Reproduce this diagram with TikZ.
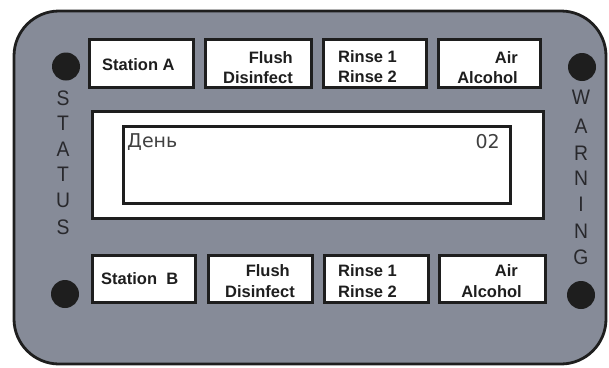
\documentclass[tikz,border=0pt]{standalone}
\usepackage{fontspec}
\setmainfont{Liberation Sans}
\newfontfamily\dispfont{DejaVu Sans}
\newfontfamily\sidefont[FakeStretch=0.92]{Liberation Sans}
\definecolor{panelgray}{RGB}{134,139,152}
\definecolor{inkdark}{RGB}{30,30,30}
\definecolor{lettergray}{RGB}{40,40,44}
\tikzset{
  panel/.style={draw=inkdark, line width=2.8pt, fill=panelgray, rounded corners=45pt},
  btn/.style={draw=inkdark, line width=3.2pt, fill=white, inner sep=0pt, outer sep=0pt},
  disp/.style={draw=inkdark, line width=2.8pt, fill=white, inner sep=0pt, outer sep=0pt},
  lamp/.style={circle, fill=inkdark, minimum size=28pt, inner sep=0pt},
  btxt/.style={font=\fontsize{16.5}{19}\selectfont\bfseries, text=inkdark, inner sep=0pt},
  side/.style={font=\sidefont\fontsize{21}{24}\selectfont, text=lettergray, inner sep=0pt},
  dtxt/.style={font=\dispfont\fontsize{19}{22}\selectfont, text=inkdark!85, inner sep=0pt}
}
\begin{document}
\begin{tikzpicture}[x=1pt, y=-1pt]
\useasboundingbox (0,0) rectangle (609,367);
\draw[panel] (14,11) rectangle (606,364);
% lamps
\node[lamp] (l1) at (66,66.5) {};
\node[lamp] (l2) at (65,294) {};
\node[lamp] (l3) at (582,67) {};
\node[lamp] (l4) at (581,295) {};
% top buttons
\node[btn, minimum width=104pt, minimum height=48pt] (sa) at (141.5,63.5) {};
\node[btn, minimum width=106pt, minimum height=48pt] (fa) at (258.5,63.5) {};
\node[btn, minimum width=103pt, minimum height=48pt] (ra) at (375,63.5) {};
\node[btn, minimum width=102pt, minimum height=48pt] (aa) at (489.5,63.5) {};
% bottom buttons
\node[btn, minimum width=103pt, minimum height=47pt] (sb) at (144,279) {};
\node[btn, minimum width=104pt, minimum height=47pt] (fb) at (260.5,279) {};
\node[btn, minimum width=104pt, minimum height=47pt] (rb) at (376.5,279) {};
\node[btn, minimum width=106pt, minimum height=47pt] (ab) at (492.5,279) {};
% display
\node[disp, minimum width=451pt, minimum height=107pt] (dout) at (318,165) {};
\node[disp, minimum width=387pt, minimum height=77pt] (din) at (317,165) {};
% top labels
\node[btxt, anchor=base west] (tsa) at (102,70) {Station A};
\node[btxt, anchor=base east] (tfa1) at (293,63) {Flush};
\node[btxt, anchor=base east] (tfa2) at (293,83) {Disinfect};
\node[btxt, anchor=base west] (tra1) at (338,62) {Rinse 1};
\node[btxt, anchor=base west] (tra2) at (338,82) {Rinse 2};
\node[btxt, anchor=base east] (taa1) at (518,63) {Air};
\node[btxt, anchor=base east] (taa2) at (518,83) {Alcohol};
% bottom labels
\node[btxt, anchor=base west] (tsb) at (101,284) {Station\ \ B};
\node[btxt, anchor=base east] (tfb1) at (290,276) {Flush};
\node[btxt, anchor=base east] (tfb2) at (295,297) {Disinfect};
\node[btxt, anchor=base west] (trb1) at (338,276) {Rinse 1};
\node[btxt, anchor=base west] (trb2) at (338,297) {Rinse 2};
\node[btxt, anchor=base east] (tab1) at (518,276) {Air};
\node[btxt, anchor=base east] (tab2) at (522,297) {Alcohol};
% display text
\node[dtxt, anchor=base west] (day) at (127,147) {День};
\node[dtxt, anchor=base east] (num) at (500,148) {02};
% STATUS
\foreach \ch/\yy [count=\i] in {S/98,T/123,A/149,T/174,U/200,S/227}
  \node[side] (st\i) at (63,\yy) {\ch};
% WARNING
\foreach \ch/\yy [count=\i] in {W/97,A/126,R/153,N/178,I/204,N/231,G/257}
  \node[side] (wa\i) at (581,\yy) {\ch};
\end{tikzpicture}
\end{document}
